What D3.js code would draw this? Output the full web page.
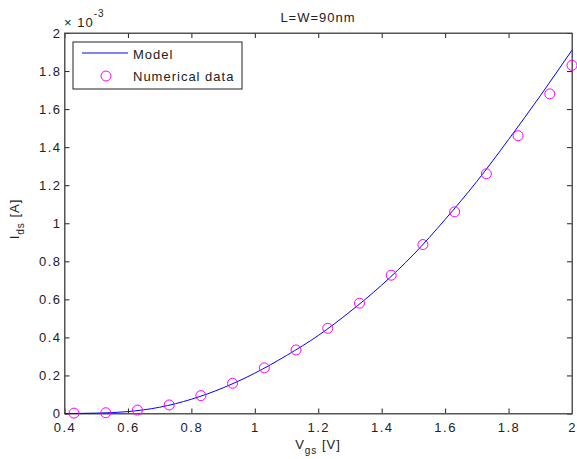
<!DOCTYPE html>
<html>
<head>
<meta charset="utf-8">
<title>Ids vs Vgs</title>
<script src="https://d3js.org/d3.v7.min.js"></script>
<style>
  body { margin: 0; background: #fff; }
  text { font-family: "Liberation Sans", Arial, sans-serif; fill: #222; }
</style>
</head>
<body>
<div id="main"></div>
<script>
  var screenWidth  = 577;
  var screenHeight = 459;
  var margin = {left: 64.5, top: 33, right: 5, bottom: 45.5};
  var innerWidth  = screenWidth - margin.left - margin.right;
  var innerHeight = screenHeight - margin.top - margin.bottom;

  // model curve (values in units of 1e-3 A)
  var modelVgs = [0.4, 0.5, 0.6, 0.7, 0.8, 0.9, 1.0, 1.1, 1.2, 1.3, 1.4, 1.5, 1.6, 1.7, 1.8, 1.9, 2.0];
  var modelIds = [0.0, 0.002, 0.01, 0.033, 0.075, 0.135, 0.212, 0.305, 0.41, 0.535, 0.675, 0.835, 1.02, 1.22, 1.44, 1.67, 1.91];

  // numerical data points
  var dataVgs = [0.43, 0.53, 0.63, 0.73, 0.83, 0.93, 1.03, 1.13, 1.23, 1.33, 1.43, 1.53, 1.63, 1.73, 1.83, 1.93, 2.0];
  var dataIds = [0.002, 0.004, 0.018, 0.045, 0.094, 0.159, 0.24, 0.334, 0.448, 0.58, 0.727, 0.888, 1.06, 1.26, 1.46, 1.68, 1.83];

  var xTicks = [0.4, 0.6, 0.8, 1, 1.2, 1.4, 1.6, 1.8, 2];
  var yTicks = [0, 0.2, 0.4, 0.6, 0.8, 1, 1.2, 1.4, 1.6, 1.8, 2];

  var xScale = d3.scaleLinear().domain([0.4, 2]).range([0, innerWidth]);
  var yScale = d3.scaleLinear().domain([0, 2]).range([innerHeight, 0]);

  var svg = d3.select("#main").append("svg")
      .attr("width", screenWidth)
      .attr("height", screenHeight);

  var g = svg.append("g")
      .attr("transform", "translate(" + margin.left + "," + margin.top + ")");

  var fmt = function(d) { return d3.format("")(d); };

  // axes with inward ticks on all four sides
  var axisColor = "#555";
  g.append("g").attr("transform", "translate(0," + innerHeight + ")")
      .call(d3.axisBottom(xScale).tickValues(xTicks).tickSizeInner(-5).tickSizeOuter(0).tickPadding(9).tickFormat(fmt));
  g.append("g")
      .call(d3.axisTop(xScale).tickValues(xTicks).tickSizeInner(-5).tickSizeOuter(0).tickFormat(""));
  g.append("g")
      .call(d3.axisLeft(yScale).tickValues(yTicks).tickSizeInner(-5).tickSizeOuter(0).tickPadding(3).tickFormat(fmt));
  g.append("g").attr("transform", "translate(" + innerWidth + ",0)")
      .call(d3.axisRight(yScale).tickValues(yTicks).tickSizeInner(-5).tickSizeOuter(0).tickFormat(""));

  g.selectAll(".domain").attr("stroke", axisColor);
  g.selectAll(".tick line").attr("stroke", "#222");
  g.selectAll(".tick text").attr("font-size", 13).attr("fill", "#222")
      .attr("letter-spacing", 1.5)
      .attr("font-family", "Liberation Sans, Arial, sans-serif");

  g.append("rect").attr("x", 0).attr("y", 0)
      .attr("width", innerWidth).attr("height", innerHeight)
      .attr("fill", "none").attr("stroke", axisColor);

  // model line
  var line = d3.line()
      .x(function(d, i) { return xScale(modelVgs[i]); })
      .y(function(d) { return yScale(d); })
      .curve(d3.curveMonotoneX);

  g.append("path").datum(modelIds)
      .attr("d", line)
      .attr("fill", "none")
      .attr("stroke", "#0000ff")
      .attr("stroke-width", 1);

  // numerical data circles
  g.selectAll("circle.pt").data(dataIds).enter().append("circle")
      .attr("class", "pt")
      .attr("cx", function(d, i) { return xScale(dataVgs[i]); })
      .attr("cy", function(d) { return yScale(d); })
      .attr("r", 5)
      .attr("fill", "none")
      .attr("stroke", "#ff00ff")
      .attr("stroke-width", 1);

  // title
  svg.append("text").attr("x", 318).attr("y", 22)
      .attr("text-anchor", "middle").attr("font-size", 13).attr("letter-spacing", 1)
      .text("L=W=90nm");

  // exponent label
  var ex = svg.append("text").attr("x", 64).attr("y", 27).attr("font-size", 13).attr("letter-spacing", 1);
  ex.append("tspan").text("\u00d7 10");
  ex.append("tspan").attr("dy", -10).attr("font-size", 10).text("-3");

  // axis labels
  var xl = svg.append("text").attr("x", 318).attr("y", 449)
      .attr("text-anchor", "middle").attr("font-size", 13).attr("letter-spacing", 1);
  xl.append("tspan").text("V");
  xl.append("tspan").attr("dy", 5).attr("font-size", 10).text("gs");
  xl.append("tspan").attr("dy", -5).text(" [V]");

  var yl = svg.append("text")
      .attr("transform", "translate(19,219) rotate(-90)")
      .attr("text-anchor", "middle").attr("font-size", 13).attr("letter-spacing", 1);
  yl.append("tspan").text("I");
  yl.append("tspan").attr("dy", 5).attr("font-size", 10).text("ds");
  yl.append("tspan").attr("dy", -5).text(" [A]");

  // legend
  var lg = svg.append("g").attr("transform", "translate(73,42)");
  lg.append("rect").attr("width", 169).attr("height", 47)
      .attr("fill", "#fff").attr("stroke", "#222");
  lg.append("line").attr("x1", 9).attr("x2", 55).attr("y1", 11).attr("y2", 11)
      .attr("stroke", "#0000ff");
  lg.append("text").attr("x", 60).attr("y", 17).attr("font-size", 13).attr("letter-spacing", 1).text("Model");
  lg.append("circle").attr("cx", 33).attr("cy", 34).attr("r", 5)
      .attr("fill", "none").attr("stroke", "#ff00ff");
  lg.append("text").attr("x", 60).attr("y", 39).attr("font-size", 13).attr("letter-spacing", 1).text("Numerical data");
</script>
</body>
</html>
